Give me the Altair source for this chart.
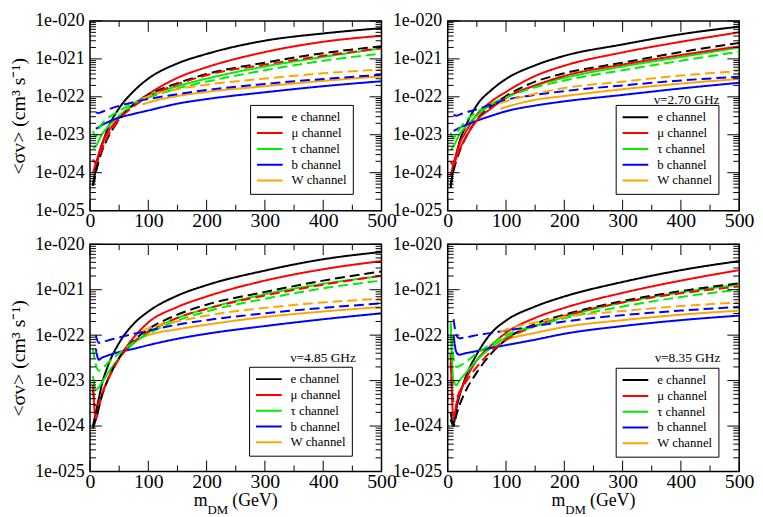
import altair as alt
import pandas as pd

FONT = "Liberation Serif"

# dark-matter masses (GeV) at which the curves were read
M = [5, 10, 15, 20, 30, 50, 75, 100, 150, 200, 300, 400, 500]
MW = [90, 100, 150, 200, 300, 400, 500]          # W channel grid

CHANNELS = ["e channel", "μ channel", "τ channel", "b channel", "W channel"]
COLORS = ["#000000", "#ff0000", "#00ee00", "#0000ff", "#ffa500"]

# log10(<sigma v>); None = no curve there
# panel 1 (top left)
P1_E = [-24.3, -23.9, -23.55, -23.3, -22.85, -22.3, -21.85, -21.52, -21.12, -20.87, -20.52, -20.33, -20.19]
P1_E_D = [-24.35, -24.0, -23.7, -23.45, -23.1, -22.6, -22.2, -21.95, -21.64, -21.40, -21.10, -20.85, -20.67]
P1_MU = [-24.0, -23.75, -23.5, -23.25, -22.95, -22.55, -22.2, -21.93, -21.5, -21.22, -20.82, -20.55, -20.39]
P1_MU_D = [-23.65, -23.75, -23.6, -23.4, -23.05, -22.6, -22.25, -22.0, -21.67, -21.43, -21.15, -20.92, -20.72]
P1_TAU = [-23.35, -23.3, -23.15, -23.0, -22.8, -22.5, -22.2, -21.98, -21.72, -21.52, -21.2, -20.95, -20.72]
P1_TAU_D = [-22.9, -23.05, -22.85, -22.72, -22.57, -22.37, -22.17, -22.02, -21.78, -21.6, -21.3, -21.05, -20.86]
P1_B = [None, -22.84, -22.8, -22.75, -22.67, -22.55, -22.45, -22.36, -22.18, -22.06, -21.88, -21.72, -21.59]
P1_B_D = [None, -22.41, -22.43, -22.4, -22.34, -22.24, -22.14, -22.06, -21.93, -21.82, -21.66, -21.53, -21.42]
P1_W = [-22.2, -22.15, -21.98, -21.87, -21.72, -21.58, -21.46]
P1_W_D = [-22.04, -21.98, -21.8, -21.68, -21.52, -21.38, -21.28]

# panel 2 (top right, 2.70 GHz)
P2_E = [-24.4, -23.85, -23.5, -23.2, -22.8, -22.22, -21.82, -21.53, -21.17, -20.92, -20.62, -20.35, -20.15]
P2_E_D = [-24.35, -23.95, -23.68, -23.45, -23.1, -22.6, -22.25, -21.98, -21.6, -21.38, -21.1, -20.82, -20.58]
P2_MU = [-24.1, -23.75, -23.5, -23.25, -22.95, -22.47, -22.12, -21.87, -21.45, -21.18, -20.83, -20.55, -20.30]
P2_MU_D = [-23.7, -23.8, -23.6, -23.4, -23.1, -22.62, -22.3, -22.03, -21.7, -21.45, -21.15, -20.9, -20.67]
P2_TAU = [-23.4, -23.3, -23.15, -23.0, -22.8, -22.5, -22.2, -22.0, -21.7, -21.5, -21.2, -20.95, -20.7]
P2_TAU_D = [-22.95, -23.1, -22.95, -22.85, -22.65, -22.4, -22.2, -22.02, -21.75, -21.57, -21.3, -21.05, -20.81]
P2_B = [None, -22.9, -22.86, -22.82, -22.75, -22.63, -22.5, -22.38, -22.23, -22.12, -21.95, -21.78, -21.63]
P2_B_D = [None, -22.47, -22.5, -22.47, -22.42, -22.33, -22.2, -22.08, -21.95, -21.85, -21.7, -21.57, -21.47]
P2_W = [-22.32, -22.27, -22.08, -21.98, -21.8, -21.65, -21.53]
P2_W_D = [-22.17, -22.12, -21.92, -21.77, -21.6, -21.44, -21.32]

# panel 3 (bottom left, 4.85 GHz)
P3_E = [-24.0, -23.7, -23.4, -23.1, -22.7, -22.17, -21.75, -21.48, -21.13, -20.9, -20.58, -20.33, -20.17]
P3_E_D = [-24.05, -23.85, -23.6, -23.35, -23.0, -22.5, -22.12, -21.87, -21.55, -21.33, -21.05, -20.8, -20.6]
P3_MU = [-23.1, -23.85, -23.6, -23.35, -23.0, -22.5, -22.05, -21.72, -21.38, -21.15, -20.8, -20.55, -20.37]
P3_MU_D = [-23.2, -23.55, -23.5, -23.3, -23.0, -22.52, -22.15, -21.92, -21.62, -21.42, -21.13, -20.89, -20.69]
P3_TAU = [-22.9, -23.2, -23.15, -23.05, -22.85, -22.5, -22.18, -21.95, -21.62, -21.42, -21.1, -20.87, -20.7]
P3_TAU_D = [-22.3, -22.65, -22.78, -22.75, -22.62, -22.4, -22.15, -21.97, -21.68, -21.48, -21.2, -20.97, -20.8]
P3_B = [None, -22.3, -22.54, -22.5, -22.45, -22.37, -22.3, -22.22, -22.08, -21.97, -21.8, -21.65, -21.52]
P3_B_D = [None, -22.0, -22.17, -22.15, -22.12, -22.05, -21.97, -21.9, -21.77, -21.67, -21.52, -21.4, -21.3]
P3_W = [-22.05, -22.0, -21.87, -21.77, -21.6, -21.48, -21.38]
P3_W_D = [-21.9, -21.85, -21.7, -21.57, -21.4, -21.28, -21.2]

# panel 4 (bottom right, 8.35 GHz)
P4_E = [-23.7, -23.95, -23.6, -23.35, -22.95, -22.42, -21.95, -21.68, -21.37, -21.15, -20.83, -20.57, -20.37]
P4_E_D = [-23.85, -24.0, -23.75, -23.55, -23.25, -22.82, -22.4, -22.1, -21.75, -21.55, -21.25, -21.03, -20.86]
P4_MU = [-22.4, -23.85, -23.5, -23.3, -23.0, -22.55, -22.22, -21.95, -21.62, -21.4, -21.07, -20.8, -20.57]
P4_MU_D = [-22.6, -23.45, -23.4, -23.25, -23.05, -22.7, -22.35, -22.1, -21.8, -21.58, -21.28, -21.08, -20.93]
P4_TAU = [-21.8, -23.0, -23.1, -23.0, -22.85, -22.55, -22.27, -22.05, -21.8, -21.6, -21.28, -21.06, -20.89]
P4_TAU_D = [-21.7, -22.5, -22.7, -22.68, -22.6, -22.4, -22.2, -22.0, -21.8, -21.63, -21.37, -21.16, -21.0]
P4_B = [None, -22.0, -22.38, -22.43, -22.4, -22.35, -22.28, -22.22, -22.1, -21.97, -21.8, -21.67, -21.57]
P4_B_D = [None, -21.65, -22.0, -22.07, -22.05, -22.0, -21.95, -21.9, -21.8, -21.7, -21.56, -21.46, -21.38]
P4_W = [-22.15, -22.1, -21.95, -21.82, -21.67, -21.55, -21.46]
P4_W_D = [-21.93, -21.88, -21.72, -21.6, -21.47, -21.36, -21.28]

NOTES = [None, "ν=2.70 GHz", "ν=4.85 GHz", "ν=8.35 GHz"]

X_MAJOR = [0, 100, 200, 300, 400, 500]
X_MINOR = [50, 150, 250, 350, 450]
Y_MAJOR = [1e-25, 1e-24, 1e-23, 1e-22, 1e-21, 1e-20]
Y_MINOR_MULT = [2, 3, 4, 5, 6, 7, 8, 9]

YTITLE = "<σv> (cm³ s⁻¹)"

PANELS = [
    {"e channel": (P1_E, P1_E_D), "μ channel": (P1_MU, P1_MU_D), "τ channel": (P1_TAU, P1_TAU_D),
     "b channel": (P1_B, P1_B_D), "W channel": (P1_W, P1_W_D)},
    {"e channel": (P2_E, P2_E_D), "μ channel": (P2_MU, P2_MU_D), "τ channel": (P2_TAU, P2_TAU_D),
     "b channel": (P2_B, P2_B_D), "W channel": (P2_W, P2_W_D)},
    {"e channel": (P3_E, P3_E_D), "μ channel": (P3_MU, P3_MU_D), "τ channel": (P3_TAU, P3_TAU_D),
     "b channel": (P3_B, P3_B_D), "W channel": (P3_W, P3_W_D)},
    {"e channel": (P4_E, P4_E_D), "μ channel": (P4_MU, P4_MU_D), "τ channel": (P4_TAU, P4_TAU_D),
     "b channel": (P4_B, P4_B_D), "W channel": (P4_W, P4_W_D)},
]
# in the 2.70 GHz panel the second mu curve is drawn as a continuous line
SOLID_OVERRIDE = {1: {"μ channel"}}

W = 295
HEIGHTS = [192, 192, 230, 230]
LEGEND_POS = [(162, 85), (170, 85), (161, 124), (170, 125)]
NOTE_POS = [None, (275, 80), (269, 115), (276, 115)]

xs = alt.Scale(domain=[0, 500], nice=False, zero=False)
ys = alt.Scale(type="log", domain=[1e-25, 1e-20], nice=False)

y_minor = [k * d for d in Y_MAJOR[:-1] for k in Y_MINOR_MULT]


def panel_df(i):
    rows = []
    lists = PANELS[i]
    over = SOLID_OVERRIDE.get(i, set())
    for kind in ("solid", "dashed"):
        for ch in CHANNELS:
            vals = lists[ch][0 if kind == "solid" else 1]
            grid = MW if ch == "W channel" else M
            dash = kind
            if kind == "dashed" and ch in over:
                dash = "solid"
            for m, v in zip(grid, vals):
                if v is None:
                    continue
                rows.append({"m": m, "sv": 10 ** v, "channel": ch,
                             "dash": dash, "series": ch + " " + kind})
    return pd.DataFrame(rows)


def make_panel(i):
    H = HEIGHTS[i]
    left = i % 2 == 0
    bottom = i >= 2
    df = panel_df(i)

    xaxis = alt.Axis(values=X_MAJOR, orient="bottom", ticks=False, tickSize=0, domain=False,
                     grid=False, labelFont=FONT, labelFontSize=20, labelPadding=0,
                     labelFlush=False, labelOverlap=False, labelColor="black", title=None)
    yargs = dict(values=Y_MAJOR, orient="left", ticks=False, tickSize=0, domain=False,
                 grid=False, labelFont=FONT, labelFontSize=18, labelPadding=6,
                 labelFlush=False, labelOverlap=False, labelColor="black",
                 labelExpr="'1e-0' + round(-log(datum.value) / LN10)")
    if left:
        yargs.update(title=YTITLE, titleFont=FONT, titleFontSize=20, titleFontWeight="normal",
                     titlePadding=6, titleColor="black")
    else:
        yargs.update(title=None)
    yaxis = alt.Axis(**yargs)

    lx, ly = LEGEND_POS[i]
    lines = alt.Chart(df).mark_line(strokeWidth=2, clip=True, interpolate="monotone").encode(
        x=alt.X("m:Q", scale=xs, axis=xaxis),
        y=alt.Y("sv:Q", scale=ys, axis=yaxis),
        color=alt.Color("channel:N", scale=alt.Scale(domain=CHANNELS, range=COLORS),
                        legend=alt.Legend(title=None, orient="none", legendX=lx, legendY=ly,
                                          direction="vertical", symbolType="stroke",
                                          symbolSize=676, symbolStrokeWidth=2,
                                          labelFont=FONT, labelFontSize=13, labelColor="black",
                                          fillColor="white", strokeColor="black",
                                          padding=6, rowPadding=2, clipHeight=13,
                                          labelOffset=8)),
        strokeDash=alt.StrokeDash("dash:N", scale=alt.Scale(domain=["solid", "dashed"],
                                                            range=[[1, 0], [10, 5]]),
                                  legend=None),
        detail="series:N",
    )

    layers = [lines]

    def xticks(vals, length):
        d = pd.DataFrame({"m": vals})
        base = alt.Chart(d).mark_rule(color="black", strokeWidth=1)
        return [
            base.encode(x=alt.X("m:Q", scale=xs, axis=xaxis), y=alt.value(H), y2=alt.value(H - length)),
            base.encode(x=alt.X("m:Q", scale=xs, axis=xaxis), y=alt.value(0), y2=alt.value(length)),
        ]

    def yticks(vals, length):
        d = pd.DataFrame({"sv": vals})
        base = alt.Chart(d).mark_rule(color="black", strokeWidth=1)
        return [
            base.encode(y=alt.Y("sv:Q", scale=ys, axis=yaxis), x=alt.value(0), x2=alt.value(length)),
            base.encode(y=alt.Y("sv:Q", scale=ys, axis=yaxis), x=alt.value(W), x2=alt.value(W - length)),
        ]

    layers += xticks(X_MAJOR, 11) + xticks(X_MINOR, 6)
    layers += yticks(Y_MAJOR, 12) + yticks(y_minor, 6)

    if NOTES[i]:
        nx, ny = NOTE_POS[i]
        layers.append(
            alt.Chart(pd.DataFrame({"t": [NOTES[i]]})).mark_text(
                font=FONT, fontSize=13.5, align="right", baseline="middle", color="black"
            ).encode(text="t:N", x=alt.value(nx), y=alt.value(ny))
        )

    if bottom:
        parts = [("m", 18, "right", 119, H + 35),
                 ("DM", 13, "left", 119, H + 43),
                 ("(GeV)", 18, "left", 144, H + 35)]
        for txt, fs, al, tx, ty in parts:
            layers.append(
                alt.Chart(pd.DataFrame({"t": [txt]})).mark_text(
                    font=FONT, fontSize=fs, align=al, baseline="alphabetic", color="black"
                ).encode(text="t:N", x=alt.value(tx), y=alt.value(ty))
            )

    return alt.layer(*layers).properties(width=W, height=H)


charts = [make_panel(i) for i in range(4)]

chart = alt.concat(
    *charts, columns=2, spacing={"row": 34, "column": 67}, bounds="flush"
).resolve_scale(
    color="independent", strokeDash="independent"
).resolve_legend(
    color="independent"
).properties(
    padding={"left": 0, "top": 0, "right": 0, "bottom": 0}
).configure_view(
    stroke="black", strokeWidth=1.5
)

chart.save("out.html", embed_options={"renderer": "svg", "actions": False})
